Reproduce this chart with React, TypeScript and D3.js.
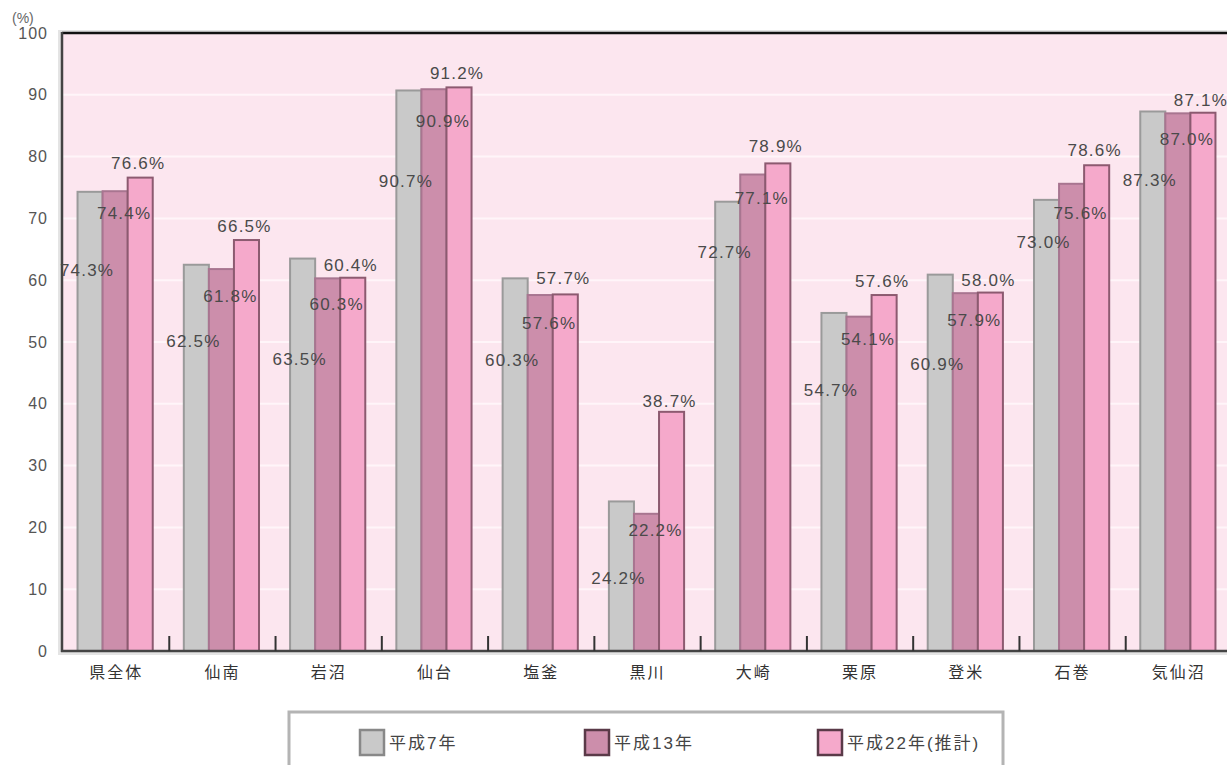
import * as d3 from "d3";

const categories = ["県全体", "仙南", "岩沼", "仙台", "塩釜", "黒川", "大崎", "栗原", "登米", "石巻", "気仙沼"];
const seriesNames = ["平成7年", "平成13年", "平成22年(推計)"];
const h7 = [74.3, 62.5, 63.5, 90.7, 60.3, 24.2, 72.7, 54.7, 60.9, 73.0, 87.3];
const h13 = [74.4, 61.8, 60.3, 90.9, 57.6, 22.2, 77.1, 54.1, 57.9, 75.6, 87.0];
const h22 = [76.6, 66.5, 60.4, 91.2, 57.7, 38.7, 78.9, 57.6, 58.0, 78.6, 87.1];
const yTicks = [0, 10, 20, 30, 40, 50, 60, 70, 80, 90, 100];

const W = 1227;
const H = 765;
const left = 63;
const right = 1232;
const top = 33;
const bottom = 651;

const fills = ["#c9c9c9", "#cc8eab", "#f5a9cb"];
const strokes = ["#9a9a9a", "#a87590", "#8c5a70"];
// label placement (px below bar top) as in the original layout
const labelDx = [-4, 8, -3];
const labelDy = [
  [78, 76, 100, 91, 82, 77, 50, 77, 89, 42, 69],
  [22, 27, 26, 32, 28, 16, 24, 22, 27, 29, 26],
  [-15, -14, -13, -14, -16, -11, -17, -14, -13, -15, -13],
];
const font = "'Liberation Sans', 'Noto Sans CJK JP', sans-serif";

export default function App() {
  const x = d3.scaleBand<string>().domain(categories).range([left, right]);
  const inner = d3
    .scaleBand<number>()
    .domain([0, 1, 2])
    .range([0, x.bandwidth()])
    .paddingOuter(0.62)
    .paddingInner(0);
  const y = d3.scaleLinear().domain([0, 100]).range([bottom, top]);
  const series = [h7, h13, h22];

  return (
    <svg
      width={W}
      height={H}
      style={{ position: "absolute", left: 0, top: 0, background: "#fff" }}
      fontFamily={font}
    >
      {/* shadow + plot background */}
      <rect x={left - 5} y={top - 3} width={W} height={bottom - top + 7} fill="#e4e4e4" />
      <rect x={left} y={top} width={W} height={bottom - top} fill="#fce6ef" />
      {yTicks.slice(1, -1).map((t) => (
        <line key={t} x1={left} x2={W} y1={y(t)} y2={y(t)} stroke="#fff5f9" strokeWidth={2} />
      ))}
      <line x1={left - 1} x2={W} y1={top} y2={top} stroke="#111" strokeWidth={2.5} />

      {series.map((vals, si) =>
        vals.map((v, ci) => (
          <rect
            key={`${si}-${ci}`}
            x={(x(categories[ci]) ?? 0) + (inner(si) ?? 0) - 1}
            y={y(v)}
            width={inner.bandwidth()}
            height={bottom - y(v)}
            fill={fills[si]}
            stroke={strokes[si]}
            strokeWidth={2}
          />
        ))
      )}

      {/* axes */}
      <line x1={left - 1} x2={left - 1} y1={top - 1} y2={bottom + 1} stroke="#444" strokeWidth={2.5} />
      <line x1={left - 2} x2={W} y1={bottom} y2={bottom} stroke="#444" strokeWidth={2.5} />
      {categories.slice(1).map((c) => (
        <line key={c} x1={x(c) ?? 0} x2={x(c) ?? 0} y1={bottom - 15} y2={bottom} stroke="#333" strokeWidth={2} />
      ))}

      {yTicks.map((t) => (
        <text
          key={t}
          x={48}
          y={y(t)}
          dy="0.35em"
          textAnchor="end"
          fontSize={16}
          letterSpacing={1}
          fill="#555"
        >
          {t}
        </text>
      ))}
      <text x={12} y={18} dy="0.35em" fontSize={14} fill="#666">
        (%)
      </text>

      {categories.map((c) => (
        <text
          key={c}
          x={(x(c) ?? 0) + x.bandwidth() / 2}
          y={672}
          dy="0.35em"
          textAnchor="middle"
          fontSize={16}
          letterSpacing={2}
          fill="#333"
        >
          {c}
        </text>
      ))}

      {series.map((vals, si) =>
        vals.map((v, ci) => (
          <text
            key={`l${si}-${ci}`}
            x={(x(categories[ci]) ?? 0) + (inner(si) ?? 0) + inner.bandwidth() / 2 + labelDx[si]}
            y={y(v) + labelDy[si][ci]}
            dy="0.35em"
            textAnchor="middle"
            fontSize={17}
            letterSpacing={1.2}
            fill="#4a4a4a"
          >
            {v.toFixed(1)}%
          </text>
        ))
      )}

      {/* legend */}
      <rect x={289} y={712} width={714} height={70} fill="#fff" stroke="#b4b4b4" strokeWidth={3} />
      {seriesNames.map((n, i) => {
        const lx = [360, 585, 818][i];
        return (
          <g key={n}>
            <rect x={lx} y={730} width={24} height={25} fill={fills[i]} stroke={i === 0 ? "#888" : "#5a3a48"} strokeWidth={2.5} />
            <text x={lx + 29} y={743} dy="0.35em" fontSize={17} letterSpacing={2} fill="#444">
              {n}
            </text>
          </g>
        );
      })}
    </svg>
  );
}
